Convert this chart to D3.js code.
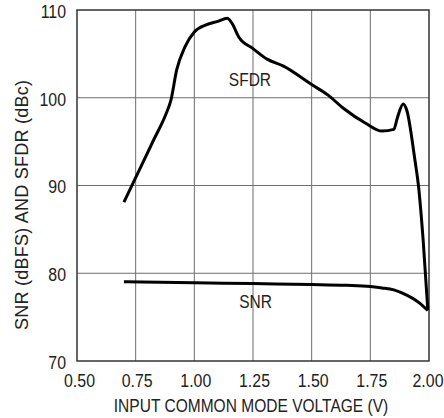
<!DOCTYPE html>
<html>
<head>
<meta charset="utf-8">
<script src="https://cdn.jsdelivr.net/npm/d3@7"></script>
<style>
  html, body { margin: 0; padding: 0; background: #fff; }
  svg { display: block; }
  text { font-family: "Liberation Sans", Arial, Helvetica, sans-serif; fill: #222; }
</style>
</head>
<body>
<svg id="chart" width="444" height="418"></svg>
<script>
const xTicks = [0.50, 0.75, 1.00, 1.25, 1.50, 1.75, 2.00];
const yTicks = [70, 80, 90, 100, 110];

const sfdrX = [0.70, 0.75, 0.825, 0.88, 0.90, 0.925, 0.96, 1.00, 1.05, 1.10, 1.14, 1.16, 1.19, 1.25, 1.31, 1.38, 1.50, 1.57, 1.635, 1.73, 1.80, 1.85, 1.865, 1.89, 1.905, 1.94, 1.955, 1.975, 1.995];
const sfdrY = [88.1, 90.9, 95.1, 98.2, 99.7, 103.2, 105.8, 107.5, 108.3, 108.7, 109.05, 108.5, 106.9, 105.6, 104.4, 103.6, 101.5, 100.3, 98.8, 97.1, 96.2, 96.4, 97.7, 99.3, 98.6, 92.9, 90.0, 83.8, 75.8];

const snrX = [0.70, 1.00, 1.25, 1.50, 1.65, 1.75, 1.80, 1.85, 1.905, 1.96, 1.995];
const snrY = [79.04, 78.92, 78.82, 78.72, 78.62, 78.48, 78.33, 78.1, 77.5, 76.6, 75.75];

const labels = [
  { text: "SFDR", x: 1.237, y: 101.3 },
  { text: "SNR", x: 1.261, y: 76.05 }
];

const W = 444, H = 418;
const margin = { left: 77, right: 15, top: 10, bottom: 57 };
const SX = 0.86; // condensed look
const FS = 18.5;
const svg = d3.select("#chart");

const x = d3.scaleLinear().domain([0.5, 2.0]).range([margin.left, W - margin.right]);
const y = d3.scaleLinear().domain([70, 110]).range([H - margin.bottom, margin.top]);

// grid
const grid = svg.append("g");
grid.selectAll("line.v").data(xTicks.slice(1, -1)).join("line")
  .attr("x1", d => x(d)).attr("x2", d => x(d))
  .attr("y1", y(70)).attr("y2", y(110))
  .attr("stroke", "#6e6e6e").attr("stroke-width", 1);
grid.selectAll("line.h").data(yTicks.slice(1, -1)).join("line")
  .attr("x1", x(0.5)).attr("x2", x(2.0))
  .attr("y1", d => y(d)).attr("y2", d => y(d))
  .attr("stroke", "#6e6e6e").attr("stroke-width", 1);

// frame
svg.append("rect")
  .attr("x", x(0.5)).attr("y", y(110))
  .attr("width", x(2.0) - x(0.5)).attr("height", y(70) - y(110))
  .attr("fill", "none").attr("stroke", "#333").attr("stroke-width", 1.5);

// axes (labels only)
const xAxis = svg.append("g").attr("transform", `translate(0,${y(70)})`)
  .call(d3.axisBottom(x).tickValues(xTicks).tickFormat(d3.format(".2f")).tickSize(0).tickPadding(13));
xAxis.select(".domain").remove();
xAxis.selectAll("text").attr("font-size", FS).attr("font-family", null).attr("fill", "#222")
  .attr("x", (d, i) => (i === 0 ? 2 : (i === xTicks.length - 1 ? -1.5 : 1)) / SX)
  .attr("transform", `scale(${SX},1)`);

const yAxis = svg.append("g").attr("transform", `translate(${x(0.5)},0)`)
  .call(d3.axisLeft(y).tickValues(yTicks).tickFormat(d3.format("d")).tickSize(0));
yAxis.select(".domain").remove();
yAxis.selectAll("text").attr("font-size", FS).attr("font-family", null).attr("fill", "#222")
  .attr("x", -11 / SX).attr("dy", "0.4em")
  .attr("transform", `scale(${SX},1)`);

// titles
svg.append("text")
  .attr("transform", `translate(251,411.5) scale(0.84,1)`)
  .attr("text-anchor", "middle").attr("font-size", FS)
  .text("INPUT COMMON MODE VOLTAGE (V)");

svg.append("text")
  .attr("transform", "translate(28,205) rotate(-90)")
  .attr("text-anchor", "middle").attr("font-size", 18)
  .attr("textLength", 250).attr("lengthAdjust", "spacing")
  .text("SNR (dBFS) AND SFDR (dBc)");

// lines
const line = d3.line().x(d => x(d[0])).y(d => y(d[1])).curve(d3.curveMonotoneX);
svg.append("path").datum(d3.zip(sfdrX, sfdrY)).attr("d", line)
  .attr("fill", "none").attr("stroke", "#000").attr("stroke-width", 3).attr("stroke-linejoin", "round");
svg.append("path").datum(d3.zip(snrX, snrY)).attr("d", line)
  .attr("fill", "none").attr("stroke", "#000").attr("stroke-width", 3).attr("stroke-linejoin", "round");

// curve labels
svg.selectAll("text.lbl").data(labels).join("text").attr("class", "lbl")
  .attr("transform", d => `translate(${x(d.x)},${y(d.y)}) scale(0.84,1)`)
  .attr("text-anchor", "middle").attr("font-size", FS)
  .text(d => d.text);
</script>
</body>
</html>
